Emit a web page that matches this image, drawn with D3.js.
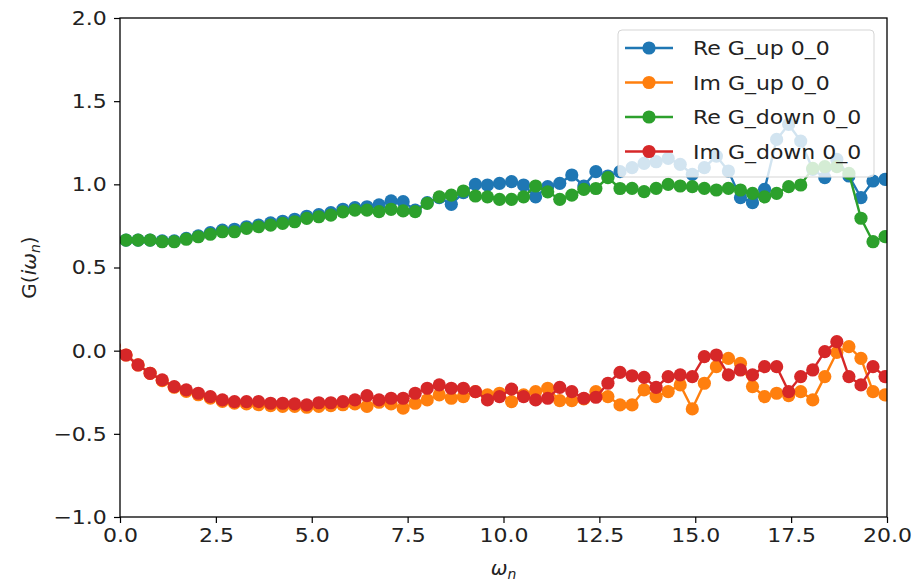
<!DOCTYPE html>
<html>
  <head>
    <script src="https://d3js.org/d3.v7.min.js"></script>
    <style>
      body { margin: 0; background: #fff; }
      text { font-family: "DejaVu Sans", sans-serif; }
    </style>
  </head>
  <body>
  <script>
  var width = 914, height = 581;
  var margin = {left: 120, right: 27, top: 18, bottom: 64};

  // Matsubara frequencies (beta = 20), first and last fall outside the axes
  var omega = [-0.157, 0.157, 0.471, 0.785, 1.100, 1.414, 1.728, 2.042, 2.356, 2.670, 2.985,
    3.299, 3.613, 3.927, 4.241, 4.555, 4.869, 5.184, 5.498, 5.812, 6.126, 6.440,
    6.754, 7.069, 7.383, 7.697, 8.011, 8.325, 8.639, 8.954, 9.268, 9.582, 9.896,
    10.210, 10.524, 10.838, 11.153, 11.467, 11.781, 12.095, 12.409, 12.723, 13.038,
    13.352, 13.666, 13.980, 14.294, 14.608, 14.923, 15.237, 15.551, 15.865, 16.179,
    16.493, 16.808, 17.122, 17.436, 17.750, 18.064, 18.378, 18.692, 19.007, 19.321,
    19.635, 19.949, 20.263];

  var reUp = [0.665, 0.665, 0.665, 0.665, 0.66, 0.66,
    0.675, 0.69, 0.71, 0.725, 0.73, 0.745, 0.755, 0.768, 0.778, 0.79, 0.808, 0.818, 0.83, 0.85, 0.86, 0.865,
    0.876, 0.90, 0.896, 0.845, 0.89, 0.92, 0.88, 0.95,
    1.0, 0.996, 1.006, 1.016, 0.996, 0.925, 0.986, 1.006, 1.056, 0.99, 1.076, 1.05, 1.076,
    1.10, 1.126, 1.136, 1.156, 1.12,
    1.06, 1.10, 1.17, 1.08, 0.92, 0.89, 0.97, 1.27, 1.36, 1.26, 1.09, 1.04, 1.15, 1.05, 0.92, 1.02, 1.03, 1.03];

  var imUp = [0.03,
    -0.026, -0.086, -0.136, -0.18, -0.22, -0.245, -0.265, -0.285, -0.305, -0.315, -0.32, -0.325, -0.33, -0.335, -0.335, -0.34, -0.335, -0.33, -0.325, -0.32, -0.335,
    -0.31, -0.32, -0.345, -0.316, -0.296, -0.266, -0.286, -0.276,
    -0.246, -0.266, -0.256, -0.306, -0.266, -0.246, -0.226, -0.30, -0.30, -0.29, -0.246,
    -0.276, -0.326, -0.326, -0.236, -0.276, -0.246, -0.206,
    -0.35, -0.196, -0.096, -0.046, -0.076, -0.216, -0.276, -0.256, -0.27, -0.246, -0.296, -0.156, -0.01, 0.024, -0.046, -0.246, -0.266, -0.28];

  var reDown = [0.665,
    0.665, 0.665, 0.665, 0.655, 0.655, 0.67, 0.685, 0.70, 0.715, 0.715, 0.735, 0.745, 0.755, 0.765, 0.775, 0.795, 0.805, 0.815, 0.835, 0.845, 0.845,
    0.836, 0.85, 0.84, 0.836, 0.886, 0.925, 0.935, 0.96,
    0.93, 0.925, 0.91, 0.91, 0.925, 0.99, 0.955, 0.91, 0.935, 0.97, 0.975, 1.04, 0.975,
    0.976, 0.956, 0.976, 1.0, 0.99,
    0.986, 0.976, 0.966, 0.976, 0.966, 0.946, 0.925, 0.946, 0.986, 0.996, 1.096, 1.106, 1.106, 1.066, 0.796, 0.655, 0.686, 0.68];

  var imDown = [0.03,
    -0.026, -0.086, -0.136, -0.176, -0.216, -0.236, -0.256, -0.276, -0.296, -0.306, -0.306, -0.306, -0.316, -0.316, -0.32, -0.326, -0.313, -0.313, -0.306, -0.296, -0.27,
    -0.296, -0.286, -0.286, -0.256, -0.226, -0.206, -0.226, -0.226, -0.246, -0.296, -0.276, -0.231, -0.276, -0.296, -0.286, -0.221, -0.246, -0.286, -0.28,
    -0.196, -0.131, -0.151, -0.161, -0.221, -0.156, -0.146, -0.156, -0.036, -0.026, -0.146, -0.116, -0.146, -0.096, -0.096, -0.246, -0.156, -0.116, -0.006, 0.054, -0.156, -0.206, -0.096, -0.156, -0.17];

  var labels = ["Re G_up 0_0", "Im G_up 0_0", "Re G_down 0_0", "Im G_down 0_0"];
  var colors = ["#1f77b4", "#ff7f0e", "#2ca02c", "#d62728"];
  var series = [reUp, imUp, reDown, imDown];

  var xTicks = [0, 2.5, 5, 7.5, 10, 12.5, 15, 17.5, 20];
  var yTicks = [-1.0, -0.5, 0.0, 0.5, 1.0, 1.5, 2.0];

  var svg = d3.select("body").append("svg")
      .attr("width", width)
      .attr("height", height);

  var x = d3.scaleLinear().domain([0, 20]).range([margin.left, width - margin.right]);
  var y = d3.scaleLinear().domain([-1, 2]).range([height - margin.bottom, margin.top]);

  svg.append("clipPath").attr("id", "plotclip")
    .append("rect")
      .attr("x", x(0)).attr("y", y(2))
      .attr("width", x(20) - x(0)).attr("height", y(-1) - y(2));

  var plot = svg.append("g").attr("clip-path", "url(#plotclip)");

  var line = d3.line()
      .x(function(d, i) { return x(omega[i]); })
      .y(function(d) { return y(d); });

  series.forEach(function(vals, s) {
    var g = plot.append("g");
    g.append("path")
        .datum(vals)
        .attr("d", line)
        .attr("fill", "none")
        .attr("stroke", colors[s])
        .attr("stroke-width", 2.4);
    g.selectAll("circle")
        .data(vals)
      .enter().append("circle")
        .attr("cx", function(d, i) { return x(omega[i]); })
        .attr("cy", function(d) { return y(d); })
        .attr("r", 6.6)
        .attr("fill", colors[s]);
  });

  // axes
  var xAxis = svg.append("g")
      .attr("transform", "translate(0," + y(-1) + ")")
      .call(d3.axisBottom(x).tickValues(xTicks).tickFormat(d3.format(".1f")).tickSize(6).tickPadding(5));
  var yAxis = svg.append("g")
      .attr("transform", "translate(" + x(0) + ",0)")
      .call(d3.axisLeft(y).tickValues(yTicks).tickFormat(d3.format(".1f")).tickSize(6).tickPadding(6));

  [xAxis, yAxis].forEach(function(a) {
    a.select(".domain").remove();
    a.selectAll(".tick line").attr("stroke", "#000").attr("stroke-width", 1.2);
    a.selectAll(".tick text")
        .attr("font-size", 20)
        .attr("font-family", "DejaVu Sans")
        .attr("fill", "#222")
        .attr("transform", "scale(1.1,1)");
  });
  yAxis.selectAll(".tick text").text(function(d) { return d < 0 ? "\u2212" + d3.format(".1f")(-d) : d3.format(".1f")(d); });

  // frame
  svg.append("rect")
      .attr("x", x(0)).attr("y", y(2))
      .attr("width", x(20) - x(0)).attr("height", y(-1) - y(2))
      .attr("fill", "none")
      .attr("stroke", "#000")
      .attr("stroke-width", 1.3);

  // axis labels
  var xl = svg.append("text")
      .attr("x", (x(0) + x(20)) / 2)
      .attr("y", 575)
      .attr("text-anchor", "middle")
      .attr("font-size", 20)
      .attr("fill", "#222");
  xl.append("tspan").attr("font-style", "italic").text("\u03c9");
  xl.append("tspan").attr("font-style", "italic").attr("font-size", 14).attr("dy", 4).text("n");

  var yl = svg.append("text")
      .attr("transform", "translate(36," + ((y(-1) + y(2)) / 2) + ") rotate(-90)")
      .attr("text-anchor", "middle")
      .attr("font-size", 20)
      .attr("fill", "#222");
  yl.append("tspan").text("G(");
  yl.append("tspan").attr("font-style", "italic").text("i\u03c9");
  yl.append("tspan").attr("font-style", "italic").attr("font-size", 14).attr("dy", 4).text("n");
  yl.append("tspan").attr("dy", -4).text(")");

  // legend
  var legend = svg.append("g");
  legend.append("rect")
      .attr("x", 618).attr("y", 30)
      .attr("width", 256).attr("height", 147)
      .attr("rx", 4)
      .attr("fill", "#fff").attr("fill-opacity", 0.8)
      .attr("stroke", "#d5d5d5").attr("stroke-width", 1);

  labels.forEach(function(lab, i) {
    var ly = 48 + i * 34.5;
    legend.append("line")
        .attr("x1", 625).attr("x2", 673)
        .attr("y1", ly).attr("y2", ly)
        .attr("stroke", colors[i]).attr("stroke-width", 2.4);
    legend.append("circle")
        .attr("cx", 649).attr("cy", ly).attr("r", 6.6)
        .attr("fill", colors[i]);
    legend.append("g")
        .attr("transform", "translate(693," + (ly + 7) + ") scale(1.1,1)")
      .append("text")
        .attr("font-size", 20)
        .attr("fill", "#222")
        .text(lab);
  });
  </script>
  </body>
</html>
